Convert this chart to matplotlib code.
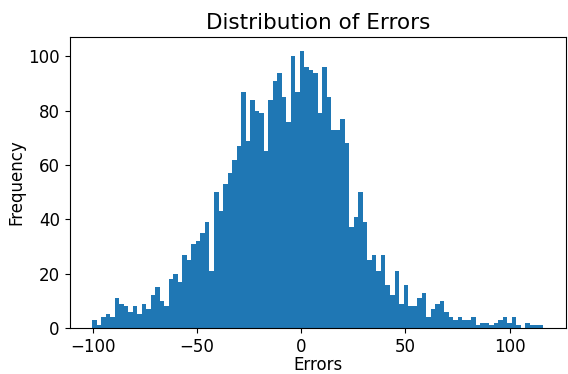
import numpy as np
import matplotlib
matplotlib.use("Agg")
import matplotlib.pyplot as plt

# Error histogram: 100 equal bins between the smallest and largest error
err_min = -100.2
err_max = 116.2
counts = [
    3, 1, 4, 5, 4, 11, 9, 8, 6, 8,
    5, 9, 7, 12, 15, 10, 8, 18, 20, 17,
    27, 25, 31, 32, 35, 39, 21, 50, 43, 53,
    57, 62, 67, 87, 69, 84, 80, 79, 65, 84,
    91, 94, 85, 76, 100, 87, 102, 96, 95, 94,
    79, 96, 85, 73, 73, 77, 68, 37, 41, 50,
    39, 25, 27, 21, 27, 16, 12, 21, 9, 16,
    8, 8, 11, 13, 4, 7, 9, 10, 6, 4,
    3, 4, 3, 3, 4, 1, 2, 2, 1, 2,
    3, 4, 2, 4, 1, 0, 2, 1, 1, 1,
]

edges = np.linspace(err_min, err_max, len(counts) + 1)
centers = 0.5 * (edges[:-1] + edges[1:])

fig = plt.figure(figsize=(5.68, 3.74), dpi=100)
ax = fig.add_axes([0.1225, 0.123, 0.874, 0.778])
ax.hist(centers, bins=edges, weights=counts, color="#1f77b4")

ax.set_title("Distribution of Errors", fontsize=15.5)
ax.set_xlabel("Errors", fontsize=12, labelpad=0)
ax.set_ylabel("Frequency", fontsize=12, labelpad=2)
ax.tick_params(labelsize=12)
ax.set_xticks([-100, -50, 0, 50, 100])

fig.savefig("out.png", dpi=100)
